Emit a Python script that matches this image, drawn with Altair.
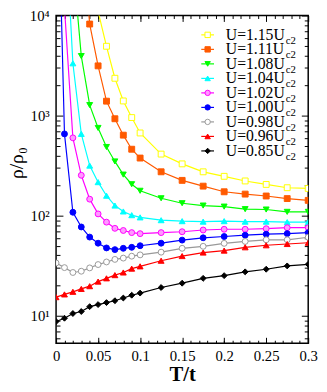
import altair as alt
import pandas as pd

# ---- data ----
T = [0, 0.01, 0.02, 0.03, 0.04, 0.05, 0.06, 0.07, 0.08, 0.09, 0.1,
     0.125, 0.15, 0.175, 0.2, 0.225, 0.25, 0.275, 0.3]

keys = ["1.15", "1.11", "1.08", "1.04", "1.02", "1.00", "0.98", "0.96", "0.85"]
labels = ["U=1.15U", "U=1.11U", "U=1.08U", "U=1.04U", "U=1.02U",
          "U=1.00U", "U=0.98U", "U=0.96U", "U=0.85U"]
subs = ["c2"] * 9

rho_115 = [None] * 5 + [11000, 4930, 2360, 1400, 955, 670,
                        412, 329, 274, 247, 222, 205, 190, 187]
rho_111 = [None] * 3 + [74000, 8220, 3140, 1393, 929, 637, 461, 376,
                        274, 225, 197, 173, 164, 157, 148, 142]
rho_108 = [None] * 2 + [35000, 3935, 1273, 752, 485, 348, 257, 206, 177,
                        149, 133, 126, 123, 116, 115, 109, 109]
rho_104 = [None, 130000, 3330, 656, 316, 216, 158, 126, 110, 101, 96,
           90, 88, 87, 88, 87, 87, 86, 86]
rho_102 = [None, 12000, 599, 253, 146, 104, 86, 74.6, 71, 67.6, 66,
           67.6, 69, 71.8, 73, 73, 74, 75.7, 75.7]
rho_100 = [1.2e6, 656, 108, 77, 61, 53, 47.5, 45.7, 47.1, 48.2, 50,
           53, 56.9, 60, 61.8, 63.7, 65.2, 66.1, 67.6]
rho_098 = [33.6, 30.2, 27.0, 27.8, 30.0, 32.4, 34.4, 36.5, 37.6, 39.3, 40.5,
           43.1, 47.1, 49.3, 52.8, 55.2, 57.3, 57.3, 60.8]
rho_096 = [15.3, 16.3, 17.3, 18.5, 19.7, 21.9, 23.6, 25.4, 27.0, 29.5, 31.1,
           35.4, 39.4, 42.7, 44.7, 48.2, 50.5, 52.0, 53.5]
rho_085 = [8.73, 9.42, 10.5, 11.0, 12.3, 12.9, 13.5, 14.1, 15.0, 16.0, 16.8,
           19.1, 21.1, 23.6, 25.1, 27.4, 29.1, 31.4, 32.6]

series_vals = [rho_115, rho_111, rho_108, rho_104, rho_102,
               rho_100, rho_098, rho_096, rho_085]

x_major = [0, 0.05, 0.1, 0.15, 0.2, 0.25, 0.3]
y_major = [10, 100, 1000, 10000]

# ---- styles ----
colors = ["#ffff00", "#ff5a00", "#00ff00", "#00ffff", "#ff00ff",
          "#0000ff", "#999999", "#ff0000", "#000000"]
fills = ["white", "#ff5a00", "#00ff00", "#00ffff", "#ff99ff",
         "#0000ff", "white", "#ff0000", "#000000"]
shapes = ["square", "square", "triangle-down", "triangle-up", "circle",
          "circle", "circle", "triangle-up", "diamond"]

rows = []
for k, vals in zip(keys, series_vals):
    for t, v in zip(T, vals):
        if v is not None:
            rows.append({"series": k, "T": t, "rho": v})
df = pd.DataFrame(rows)
leg = pd.DataFrame({"series": keys, "label": labels, "sub": subs})

W, H = 257, 334
x_minor = [round(i * 0.01, 2) for i in range(1, 30)]
y_minor = [m * 10 ** e for e in range(0, 4) for m in range(2, 10) if m * 10 ** e > 5.3]

xs = alt.Scale(domain=[0, 0.3], nice=False, zero=False)
ys = alt.Scale(type="log", domain=[5.3, 10000], nice=False)

stroke_sc = alt.Scale(domain=keys, range=colors)
fill_sc = alt.Scale(domain=keys, range=fills)
shape_sc = alt.Scale(domain=keys, range=shapes)

SUP = "['\u2070','\u00b9','\u00b2','\u00b3','\u2074'][round(log(datum.value)/LN10)]"


def tick_axis(orient, offset, values, size):
    return alt.Axis(orient=orient, offset=offset, values=values, tickSize=size,
                    labels=False, domain=False, grid=False, title=None,
                    ticks=True, tickColor="black", tickWidth=1)


base = alt.Chart(df)

lines = base.mark_line(clip=True, strokeWidth=1.2).encode(
    x=alt.X("T:Q", scale=xs, axis=alt.Axis(
        orient="bottom", values=x_major, format="~g", ticks=False, domain=False,
        grid=False, labelPadding=6, labelFlush=False, title="T/t",
        titleFontSize=21, titleFontWeight="bold", titlePadding=0)),
    y=alt.Y("rho:Q", scale=ys, axis=alt.Axis(
        orient="left", values=y_major, labelExpr="'10' + " + SUP, ticks=False,
        domain=False, grid=False, labelPadding=7, labelFlush=False,
        title="\u03c1/\u03c1\u2080", titleFontSize=20, titleFontWeight="normal",
        titleAngle=270, titleX=-34, titleY=150, titleAlign="center",
        titleBaseline="alphabetic")),
    stroke=alt.Stroke("series:N", scale=stroke_sc, legend=None),
    detail="series:N",
)

# points; their axes draw the inward major ticks on the bottom and left edges
points = base.mark_point(clip=True, size=36, opacity=1, strokeWidth=1).encode(
    x=alt.X("T:Q", scale=xs, axis=tick_axis("top", -H, x_major, 6)),
    y=alt.Y("rho:Q", scale=ys, axis=tick_axis("right", -W, y_major, 7)),
    stroke=alt.Stroke("series:N", scale=stroke_sc, legend=None),
    fill=alt.Fill("series:N", scale=fill_sc, legend=None),
    shape=alt.Shape("series:N", scale=shape_sc, legend=None),
)

# invisible carriers for the remaining inward tick sets
d1 = base.mark_point(size=0, opacity=0).encode(
    x=alt.X("T:Q", scale=xs, axis=tick_axis("top", -H, x_minor, 3)),
    y=alt.Y("rho:Q", scale=ys, axis=tick_axis("right", -W, y_minor, 4)),
)
d2 = base.mark_point(size=0, opacity=0).encode(
    x=alt.X("T:Q", scale=xs, axis=tick_axis("bottom", -H, x_major, 6)),
    y=alt.Y("rho:Q", scale=ys, axis=tick_axis("left", -W, y_major, 7)),
)
d3 = base.mark_point(size=0, opacity=0).encode(
    x=alt.X("T:Q", scale=xs, axis=tick_axis("bottom", -H, x_minor, 3)),
    y=alt.Y("rho:Q", scale=ys, axis=tick_axis("left", -W, y_minor, 4)),
)

# ---- legend (positions relative to the plot's top-left corner) ----
yleg = alt.Scale(type="point", domain=keys, range=[19.7, 138.0], padding=0)
lbase = alt.Chart(leg)
leg_rule = lbase.mark_rule(strokeWidth=1.2).encode(
    x=alt.value(148), x2=alt.value(161),
    y=alt.Y("series:N", scale=yleg, axis=None),
    stroke=alt.Stroke("series:N", scale=stroke_sc, legend=None),
)
leg_pt = lbase.mark_point(size=30, opacity=1, strokeWidth=1).encode(
    x=alt.value(154.5),
    y=alt.Y("series:N", scale=yleg, axis=None),
    stroke=alt.Stroke("series:N", scale=stroke_sc, legend=None),
    fill=alt.Fill("series:N", scale=fill_sc, legend=None),
    shape=alt.Shape("series:N", scale=shape_sc, legend=None),
)
leg_txt = lbase.mark_text(align="left", baseline="middle", font="Liberation Serif",
                          fontSize=16, color="black").encode(
    x=alt.value(173),
    y=alt.Y("series:N", scale=yleg, axis=None),
    text="label:N",
)
leg_sub = lbase.mark_text(align="left", baseline="middle", font="Liberation Serif",
                          fontSize=11, color="black", dy=6).encode(
    x=alt.value(234),
    y=alt.Y("series:N", scale=yleg, axis=None),
    text="sub:N",
)

chart = alt.layer(
    lines, points, d1, d2, d3, leg_rule, leg_pt, leg_txt, leg_sub
).resolve_scale(
    x="independent", y="independent"
).properties(
    width=W, height=H,
    autosize=alt.AutoSizeParams(type="none"),
    padding={"left": 49, "top": 4, "right": 11, "bottom": 44},
).configure_view(
    stroke="black", strokeWidth=1.5
).configure_axis(
    labelFont="Liberation Serif", labelFontSize=15, labelColor="black",
    titleFont="Liberation Serif", titleColor="black",
)

chart.save("out.html", embed_options={"renderer": "svg", "actions": False})
